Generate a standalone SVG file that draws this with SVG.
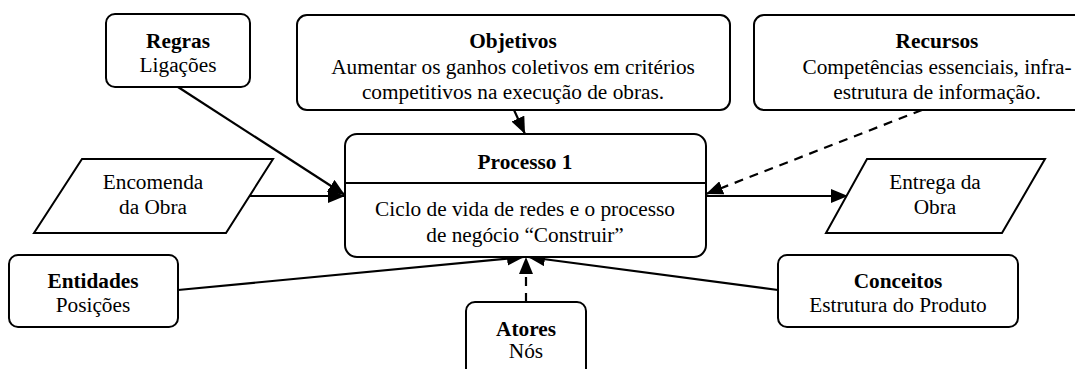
<svg xmlns="http://www.w3.org/2000/svg" width="1075" height="369" viewBox="0 0 1075 369">
<defs>
<style>
.b{fill:#fff;stroke:#000;stroke-width:2}
.t{font-family:"Liberation Serif","Times New Roman",serif;font-size:21.3px;fill:#000;text-anchor:middle}
.bold{font-weight:bold}
.c{fill:none;stroke:#000;stroke-width:2.2}
.d{stroke-dasharray:9,7}
</style>
<marker id="ah" markerUnits="userSpaceOnUse" markerWidth="18" markerHeight="14" refX="17" refY="7" orient="auto">
<path d="M0,0 L17,7 L0,14 Z" fill="#000"/>
</marker>
</defs>
<rect width="1075" height="369" fill="#fff"/>
<g id="connectors">
<line class="c" x1="178" y1="87" x2="345" y2="195" marker-end="url(#ah)"/>
<line class="c" x1="249" y1="196" x2="345" y2="196" marker-end="url(#ah)"/>
<line class="c" x1="514" y1="110" x2="525" y2="134" marker-end="url(#ah)"/>
<line class="c d" x1="922" y1="110" x2="706" y2="194" marker-end="url(#ah)"/>
<line class="c" x1="706" y1="196" x2="848" y2="196" marker-end="url(#ah)"/>
<line class="c" x1="178" y1="290" x2="524" y2="257" marker-end="url(#ah)"/>
<line class="c d" x1="526" y1="302" x2="526" y2="257" marker-end="url(#ah)"/>
<line class="c" x1="778" y1="290" x2="528" y2="257" marker-end="url(#ah)"/>
</g>
<g id="regras">
<rect class="b" x="106" y="14" width="144" height="73" rx="9"/>
<text class="t bold" x="178" y="48">Regras</text>
<text class="t" x="178" y="72">Ligações</text>
</g>
<g id="objetivos">
<rect class="b" x="297" y="15" width="433" height="95" rx="10"/>
<text class="t bold" x="513" y="48">Objetivos</text>
<text class="t" x="513" y="74">Aumentar os ganhos coletivos em critérios</text>
<text class="t" x="513" y="99">competitivos na execução de obras.</text>
</g>
<g id="recursos">
<rect class="b" x="754" y="15" width="330" height="95" rx="10"/>
<text class="t bold" x="937" y="48">Recursos</text>
<text class="t" x="937" y="74">Competências essenciais, infra-</text>
<text class="t" x="937" y="99">estrutura de informação.</text>
</g>
<g id="processo">
<rect class="b" x="345" y="134" width="361" height="123" rx="12"/>
<line x1="345" y1="183" x2="706" y2="183" stroke="#000" stroke-width="2"/>
<text class="t bold" x="525" y="169">Processo 1</text>
<text class="t" x="525" y="216">Ciclo de vida de redes e o processo</text>
<text class="t" x="525" y="242">de negócio “Construir”</text>
</g>
<g id="encomenda">
<polygon class="b" points="82,159 273,159 226,233 34,233"/>
<text class="t" x="153" y="189">Encomenda</text>
<text class="t" x="153" y="214">da Obra</text>
</g>
<g id="entrega">
<polygon class="b" points="867,159 1045,159 1002,233 826,233"/>
<text class="t" x="935" y="189">Entrega da</text>
<text class="t" x="935" y="214">Obra</text>
</g>
<g id="entidades">
<rect class="b" x="9" y="255" width="169" height="72" rx="9"/>
<text class="t bold" x="93" y="288">Entidades</text>
<text class="t" x="93" y="312">Posições</text>
</g>
<g id="conceitos">
<rect class="b" x="778" y="255" width="240" height="72" rx="9"/>
<text class="t bold" x="898" y="288">Conceitos</text>
<text class="t" x="898" y="312">Estrutura do Produto</text>
</g>
<g id="atores">
<rect class="b" x="466" y="302" width="120" height="80" rx="9"/>
<text class="t bold" x="526" y="336">Atores</text>
<text class="t" x="526" y="358">Nós</text>
</g>
</svg>
